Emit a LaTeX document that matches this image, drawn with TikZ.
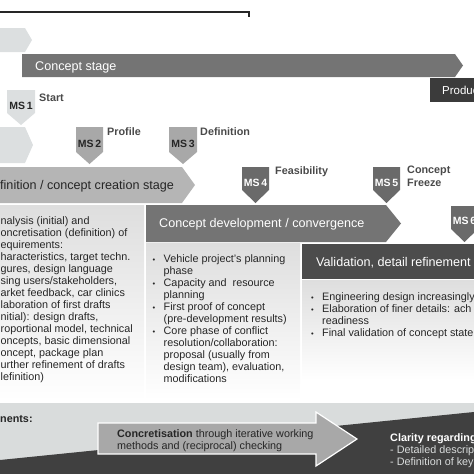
\documentclass[tikz,border=0pt]{standalone}
\usepackage{fontspec}
\setmainfont{Liberation Sans}
\usepackage{tikz}

\definecolor{barlight}{HTML}{DCDFE0}
\definecolor{barmid}{HTML}{A8A8A8}
\definecolor{bardef}{HTML}{B5B5B5}
\definecolor{bargray}{HTML}{747474}
\definecolor{msdark}{HTML}{6A6A6A}
\definecolor{bardark}{HTML}{4C4C4C}
\definecolor{barblack}{HTML}{3B3B3B}
\definecolor{band}{HTML}{D9DCDC}
\definecolor{wedge}{HTML}{404040}
\definecolor{txt}{HTML}{262626}
\definecolor{lbl}{HTML}{4A4A4A}

\newcommand{\itemdot}{\makebox[11pt][l]{\scalebox{0.7}{\textbullet}}}
\newcommand{\itemgap}{\hspace*{11pt}}

\begin{document}
\begin{tikzpicture}[x=1pt,y=-1pt,
  bartext/.style={anchor=base west,inner sep=0pt,font=\fontsize{12.6}{14}\selectfont},
  bodytext/.style={anchor=base west,inner sep=0pt,align=left,text=txt,
    font=\fontsize{10.8}{12}\selectfont},
  mslabel/.style={anchor=base,inner sep=0pt,text=txt,
    font=\bfseries\fontsize{10.5}{12}\selectfont},
  milestone/.style={anchor=base west,inner sep=0pt,align=left,text=lbl,
    font=\bfseries\fontsize{10.8}{13}\selectfont},
  panel/.style={top color=black!13,bottom color=white}]
 \useasboundingbox (0,0) rectangle (474,474);
 \clip (0,0) rectangle (474,474);

 % time line
 \draw[line width=1.3pt,txt]
    (0,12) -- (249,12) -- (249,17);

 % stage bars
 \fill[barlight]
    (0,28) -- (25,28) -- (32,40) --
    (25,52) -- (0,52) -- cycle;
 \fill[bargray]
    (22,54) -- (455,54) -- (463,65.5) --
    (455,77) -- (22,77) -- cycle;
 \fill[barblack] (430,78) rectangle (480,102);
 \fill[barlight]
    (0,127) -- (25,127) -- (33,145) --
    (25,163) -- (0,163) -- cycle;
 \fill[bardef]
    (-5,167) -- (182,167) -- (195,185) --
    (182,203) -- (-5,203) -- cycle;

 % text panels
 \shade[panel] (0,205) rectangle (144,400);
 \shade[panel] (146,243) rectangle (300,400);
 \shade[panel] (302,280) rectangle (474,380);

 \fill[bargray]
    (146,205) -- (386,205) -- (401,223.5) --
    (386,242) -- (146,242) -- cycle;
 \fill[bardark] (302,244) rectangle (480,279);

 % milestones
 \fill[barlight]
    (7,90) -- (35,90) -- (35,113) --
    (21,125) -- (7,113) -- cycle;
 \fill[barmid]
    (76,127) -- (103,127) -- (103,152) --
    (89.5,164) -- (76,152) -- cycle;
 \fill[barmid]
    (169,127) -- (197,127) -- (197,152) --
    (183,164) -- (169,152) -- cycle;
 \fill[msdark]
    (242,167) -- (269,167) -- (269,190) --
    (255.5,203) -- (242,190) -- cycle;
 \fill[msdark]
    (373,167) -- (400,167) -- (400,190) --
    (386.5,203) -- (373,190) -- cycle;
 \fill[msdark]
    (451,206) -- (478,206) -- (478,229) --
    (464.5,242) -- (451,229) -- cycle;

 % bottom band
 \fill[band] (0,403) rectangle (474,474);
 \fill[wedge]
    (0,460) -- (474,412) --
    (474,474) -- (0,474) -- cycle;
 \filldraw[fill=barmid,draw=white,line width=1.2pt]
    (98,423) -- (316,423) -- (316,412) -- (357,439) --
    (316,466) -- (316,454) -- (98,454) -- cycle;

 % labels
 \node[bartext,text=white] (cs) at (35,70.5) {Concept stage};
 \node[bartext,text=white,font=\fontsize{11.5}{13}\selectfont] (prod) at (442,94.5) {Produc};
 \node[mslabel] (ms1) at (21,109) {MS\,1};
 \node[milestone] (start) at (39,101) {Start};
 \node[mslabel] (ms2) at (89.5,147) {MS\,2};
 \node[milestone] (profile) at (107,135) {Profile};
 \node[mslabel] (ms3) at (183,147) {MS\,3};
 \node[milestone] (defn) at (200,135) {Definition};
 \node[bartext,text=txt] (cc) at (0,189.5) {finition / concept creation stage};
 \node[mslabel,text=white] (ms4) at (255.5,186) {MS\,4};
 \node[milestone] (feas) at (275,174) {Feasibility};
 \node[mslabel,text=white] (ms5) at (386.5,186) {MS\,5};
 \node[milestone] (freeze) at (407,186) {Concept\\Freeze};
 \node[bartext,text=white] (cd) at (159,227.5) {Concept development / convergence};
 \node[mslabel,text=white] (ms6) at (464.5,224) {MS\,6};
 \node[bartext,text=white] (val) at (316,266.5) {Validation, detail refinement};

 % panel texts (anchored on the last line)
 \node[bodytext] (req) at (0.5,380)
    {nalysis (initial) and\\oncretisation (definition) of\\equirements:\\
     haracteristics, target techn.\\gures, design language\\
     sing users/stakeholders,\\arket feedback, car clinics\\
     laboration of first drafts\\nitial): design drafts,\\
     roportional model, technical\\oncepts, basic dimensional\\
     oncept, package plan\\urther refinement of drafts\\lefinition)};
 \node[bodytext] (dev) at (152.5,382)
    {\itemdot Vehicle project's planning\\\itemgap phase\\
     \itemdot Capacity and~ resource\\\itemgap planning\\
     \itemdot First proof of concept\\\itemgap (pre-development results)\\
     \itemdot Core phase of conflict\\\itemgap resolution/collaboration:\\
     \itemgap proposal (usually from\\\itemgap design team), evaluation,\\
     \itemgap modifications};
 \node[bodytext] (fin) at (311,336)
    {\itemdot Engineering design increasingly\\
     \itemdot Elaboration of finer details: ach\\\itemgap readiness\\
     \itemdot Final validation of concept state};

 \node[milestone,text=txt] (ments) at (0,422) {nents:};
 \node[bodytext] (conc) at (117,449)
    {\textbf{Concretisation} through iterative working\\methods and (reciprocal) checking};
 \node[bodytext,text=band] (clar) at (390,465)
    {\textcolor{white}{\textbf{Clarity regarding}}\\- Detailed descrip\\- Definition of key};
\end{tikzpicture}
\end{document}
